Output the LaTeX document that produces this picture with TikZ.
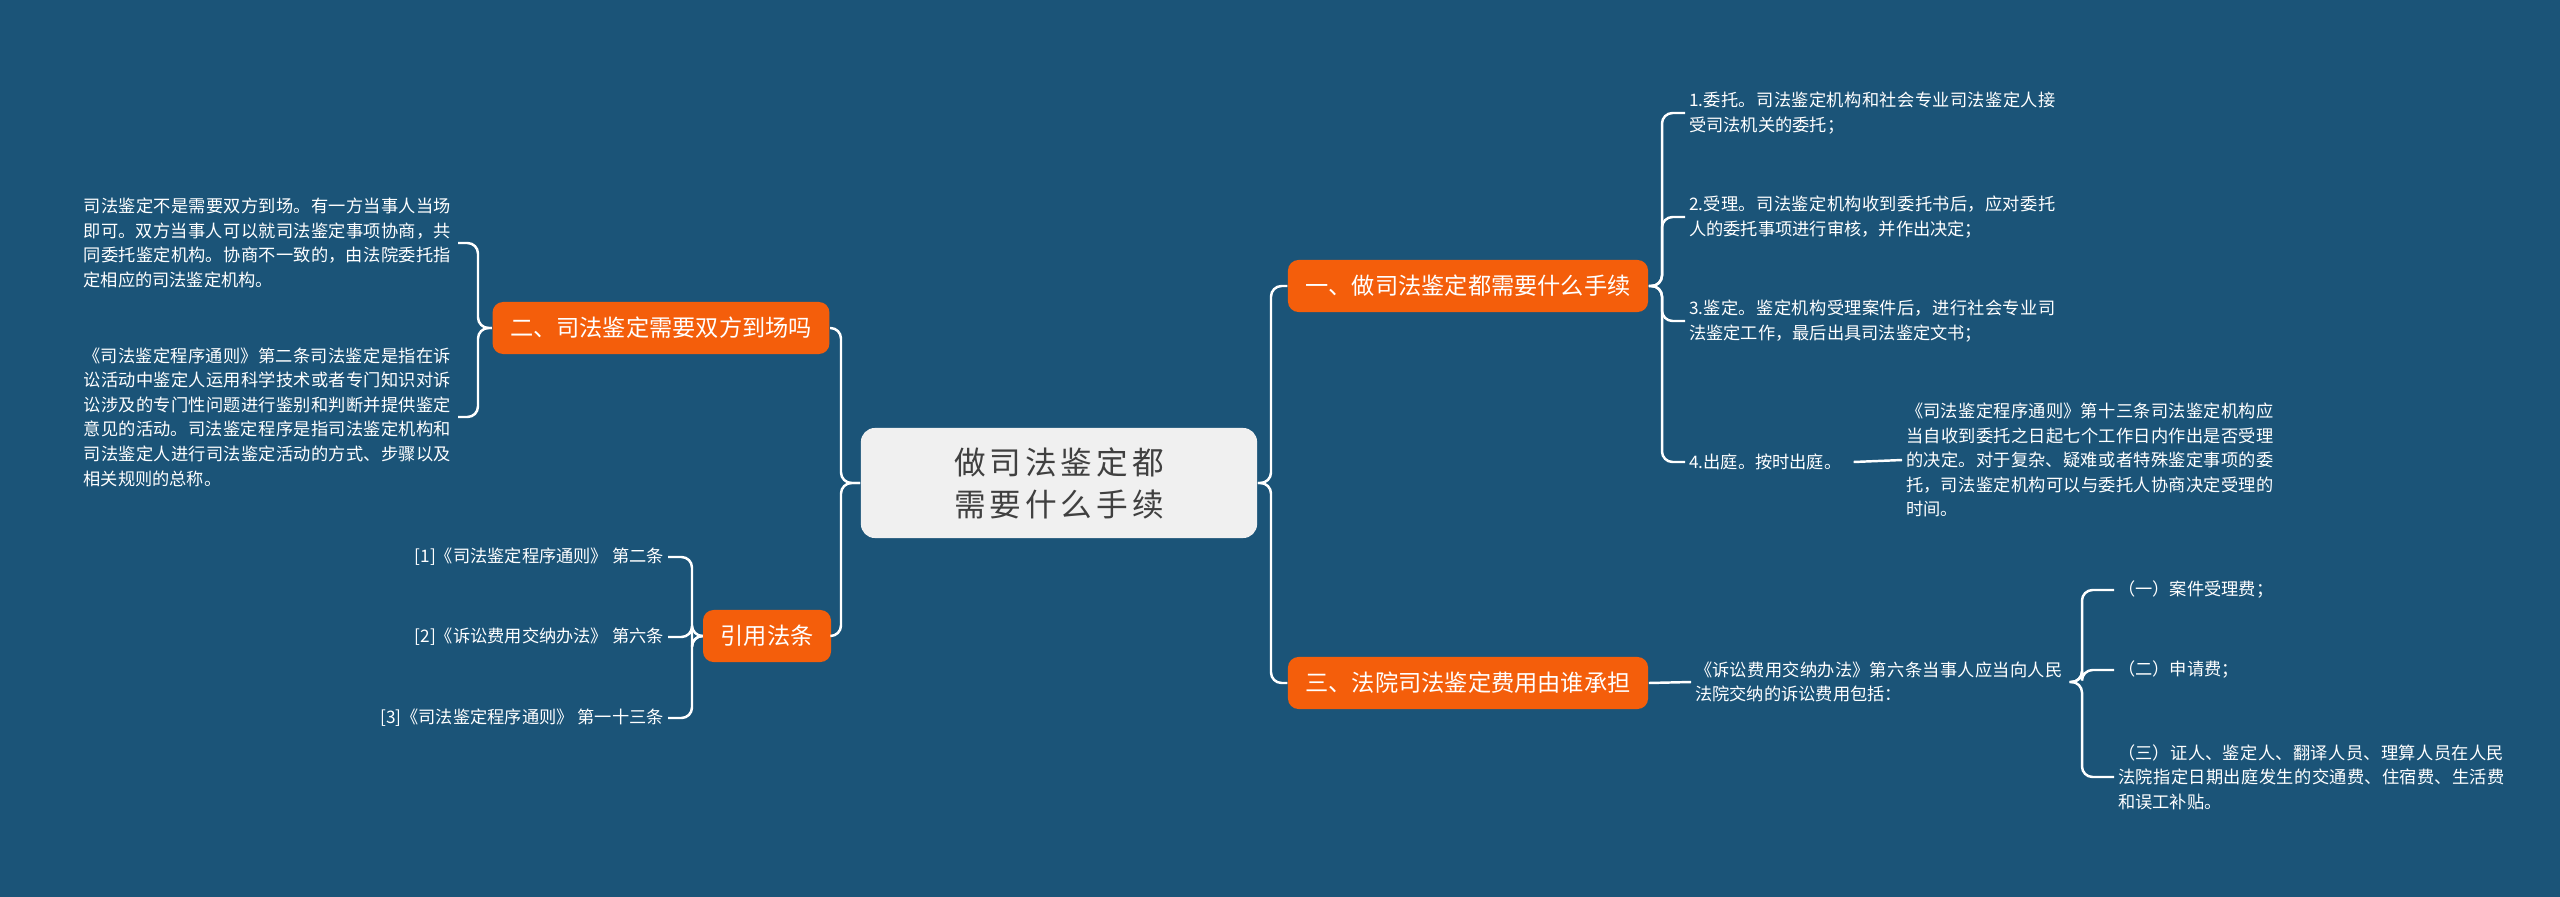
\documentclass[tikz,border=0pt]{standalone}
\usepackage{fontspec}
\setmainfont{Noto Sans CJK SC}
\XeTeXlinebreaklocale "zh"
\XeTeXlinebreakskip=0pt plus 1pt
\usetikzlibrary{positioning,calc}
\definecolor{bgblue}{HTML}{1B5478}
\definecolor{topic}{HTML}{F45E0B}
\definecolor{rootbg}{HTML}{F0F0F0}
\tikzset{
  rootbox/.style={draw=none,fill=rootbg,rounded corners=4pt,text=black!75,align=center,font=\fontsize{9}{12}\selectfont,minimum width=3.96cm,minimum height=1.1cm,text width=3.5cm},
  topicbox/.style={fill=topic,rounded corners=3pt,text=white,font=\fontsize{6.6}{8}\selectfont,minimum height=0.52cm,inner xsep=5pt},
  leaf/.style={text=white,font=\fontsize{4.9}{7}\selectfont,align=left,inner sep=1pt},
  branch/.style={draw=white,line width=0.7pt,rounded corners=3pt},
}
\begin{document}
\begin{tikzpicture}[x=0.01cm,y=-0.01cm]
\fill[bgblue] (0,0) rectangle (2560,897);
\node[rootbox] (root) at (1059,483) {做司法鉴定都需要什么手续};
\node[topicbox] (t1) at (1468,286) {一、做司法鉴定都需要什么手续};
\node[topicbox] (t3) at (1468,683) {三、法院司法鉴定费用由谁承担};
\node[topicbox] (t2) at (661,328) {二、司法鉴定需要双方到场吗};
\node[topicbox] (cite) at (767,636) {引用法条};
% right branch: procedure
\node[leaf,anchor=west,text width=3.7cm] (p1) at (1685,113) {1.委托。司法鉴定机构和社会专业司法鉴定人接受司法机关的委托；};
\node[leaf,anchor=west,text width=3.7cm] (p2) at (1685,217) {2.受理。司法鉴定机构收到委托书后，应对委托人的委托事项进行审核，并作出决定；};
\node[leaf,anchor=west,text width=3.7cm] (p3) at (1685,321) {3.鉴定。鉴定机构受理案件后，进行社会专业司法鉴定工作，最后出具司法鉴定文书；};
\node[leaf,anchor=west] (p4) at (1685,462) {4.出庭。按时出庭。};
\node[leaf,anchor=west,text width=3.7cm] (p4a) at (1902,460) {《司法鉴定程序通则》第十三条司法鉴定机构应当自收到委托之日起七个工作日内作出是否受理的决定。对于复杂、疑难或者特殊鉴定事项的委托，司法鉴定机构可以与委托人协商决定受理的时间。};
% right branch: fees
\node[leaf,anchor=west,text width=3.7cm] (f0) at (1691,682) {《诉讼费用交纳办法》第六条当事人应当向人民法院交纳的诉讼费用包括：};
\node[leaf,anchor=west] (f1) at (2114,590) {（一）案件受理费；};
\node[leaf,anchor=west] (f2) at (2114,670) {（二）申请费；};
\node[leaf,anchor=west,text width=3.9cm] (f3) at (2114,777) {（三）证人、鉴定人、翻译人员、理算人员在人民法院指定日期出庭发生的交通费、住宿费、生活费和误工补贴。};
% left branch
\node[leaf,anchor=east,text width=3.7cm] (l1) at (458,243) {司法鉴定不是需要双方到场。有一方当事人当场即可。双方当事人可以就司法鉴定事项协商，共同委托鉴定机构。协商不一致的，由法院委托指定相应的司法鉴定机构。};
\node[leaf,anchor=east,text width=3.7cm] (l2) at (458,417) {《司法鉴定程序通则》第二条司法鉴定是指在诉讼活动中鉴定人运用科学技术或者专门知识对诉讼涉及的专门性问题进行鉴别和判断并提供鉴定意见的活动。司法鉴定程序是指司法鉴定机构和司法鉴定人进行司法鉴定活动的方式、步骤以及相关规则的总称。};
\node[leaf,anchor=east] (c1) at (668,557) {[1]《司法鉴定程序通则》 第二条};
\node[leaf,anchor=east] (c2) at (668,637) {[2]《诉讼费用交纳办法》 第六条};
\node[leaf,anchor=east] (c3) at (668,718) {[3]《司法鉴定程序通则》 第一十三条};
% connectors
\foreach \t in {t1,t3} \draw[branch] (root.east) -- (1271,483) |- (\t.west);
\foreach \t in {t2,cite} \draw[branch] (root.west) -- (841,483) |- (\t.east);
\foreach \p in {p1,p2,p3,p4} \draw[branch] (t1.east) -- (1662,286) |- (\p.west);
\draw[branch] (p4.east) ++(8,0) -- (p4a.west);
\draw[branch] (t3.east) -- (f0.west);
\foreach \f in {f1,f2,f3} \draw[branch] (f0.east) -- (2082,682) |- (\f.west);
\foreach \l in {l1,l2} \draw[branch] (t2.west) -- (478,328) |- (\l.east);
\foreach \c in {c1,c2,c3} \draw[branch] (cite.west) -- (692,636) |- (\c.east);
\end{tikzpicture}
\end{document}
